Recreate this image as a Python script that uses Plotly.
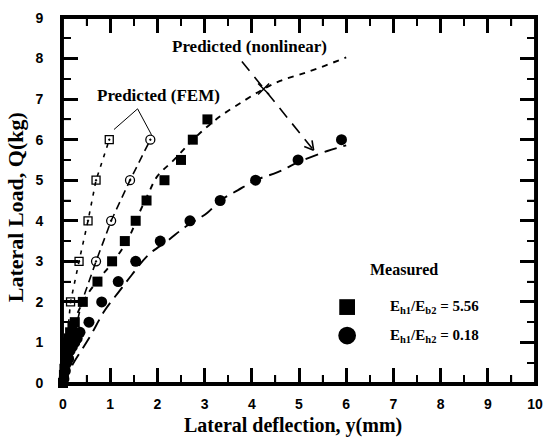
import plotly.graph_objects as go

# ---------------- data ----------------
# Measured, Eh1/Eb2 = 5.56 (filled squares)
sq_x = [0.0, 0.02, 0.03, 0.05, 0.06, 0.08, 0.10, 0.12, 0.15, 0.20, 0.25, 0.42, 0.73, 1.04, 1.31, 1.54, 1.77, 2.15, 2.50, 2.75, 3.06]
sq_y = [0.0, 0.2, 0.35, 0.5, 0.65, 0.8, 1.0, 1.1, 1.25, 1.4, 1.5, 2.0, 2.5, 3.0, 3.5, 4.0, 4.5, 5.0, 5.5, 6.0, 6.5]
# Measured, Eh1/Eh2 = 0.18 (filled circles)
ci_x = [0.02, 0.05, 0.08, 0.12, 0.15, 0.20, 0.25, 0.30, 0.36, 0.55, 0.82, 1.17, 1.54, 2.06, 2.69, 3.33, 4.08, 4.98, 5.90]
ci_y = [0.1, 0.3, 0.5, 0.6, 0.8, 0.9, 1.0, 1.1, 1.25, 1.5, 2.0, 2.5, 3.0, 3.5, 4.0, 4.5, 5.0, 5.5, 6.0]

# Predicted (FEM)
fem_sq_x = [0.16, 0.34, 0.53, 0.70, 0.98]
fem_sq_y = [2.0, 3.0, 4.0, 5.0, 6.0]
fem_sq_line_x = [0.0, 0.08, 0.16, 0.34, 0.53, 0.70, 0.98]
fem_sq_line_y = [0.0, 1.0, 2.0, 3.0, 4.0, 5.0, 6.0]
fem_ci_x = [0.70, 1.02, 1.42, 1.85]
fem_ci_y = [3.0, 4.0, 5.0, 6.0]
fem_ci_line_x = [0.0, 0.2, 0.4, 0.70, 1.02, 1.42, 1.85]
fem_ci_line_y = [0.0, 1.0, 2.0, 3.0, 4.0, 5.0, 6.0]

# Predicted (nonlinear)
nl_hi_x = [0.0, 0.05, 0.15, 0.30, 0.50, 0.75, 1.00, 1.25, 1.45, 1.60, 1.80, 2.00, 2.35, 2.80, 3.30, 3.85, 4.25, 4.60, 5.00, 5.45, 6.00]
nl_hi_y = [0.0, 0.6, 1.2, 1.7, 2.15, 2.55, 2.9, 3.3, 3.72, 4.15, 4.65, 5.1, 5.5, 6.05, 6.55, 6.97, 7.25, 7.45, 7.6, 7.78, 8.03]
nl_lo_x = [0.0, 0.20, 0.56, 0.88, 1.19, 1.46, 1.81, 2.23, 2.58, 3.06, 3.33, 3.70, 4.08, 4.55, 5.00, 5.60, 6.00]
nl_lo_y = [0.0, 0.45, 1.12, 1.78, 2.26, 2.67, 3.16, 3.52, 3.84, 4.2, 4.5, 4.75, 5.0, 5.2, 5.45, 5.72, 5.86]
nl_mark_x = [4.25]
nl_mark_y = [7.25]

x_ticks = list(range(0, 11))
y_ticks = list(range(0, 10))
x_title = "Lateral deflection, y(mm)"
y_title = "Lateral Load, Q(kg)"
legend_title = "Measured"
legend_labels = ["E<sub>h1</sub>/E<sub>b2</sub> = 5.56", "E<sub>h1</sub>/E<sub>h2</sub> = 0.18"]

SERIF = "Liberation Serif"
SANS = "Liberation Sans"

W, H = 553, 439
ML, MR, MT, MB = 63, 10, 13, 56
XR = [x_ticks[0], x_ticks[-1]]
YR = [y_ticks[0], y_ticks[-1]]
ppx = (W - ML - MR) / (XR[1] - XR[0])   # pixels per x unit
ppy = (H - MT - MB) / (YR[1] - YR[0])   # pixels per y unit

fig = go.Figure()

fig.add_trace(go.Scatter(x=fem_sq_line_x, y=fem_sq_line_y, mode="lines",
                         line=dict(color="black", width=1.6, dash="4px,6px")))
fig.add_trace(go.Scatter(x=fem_ci_line_x, y=fem_ci_line_y, mode="lines",
                         line=dict(color="black", width=1.6, dash="8px,5px")))
fig.add_trace(go.Scatter(x=nl_hi_x, y=nl_hi_y, mode="lines", line_shape="spline",
                         line=dict(color="black", width=1.9, dash="6px,6px")))
fig.add_trace(go.Scatter(x=nl_lo_x, y=nl_lo_y, mode="lines", line_shape="spline",
                         line=dict(color="black", width=1.9, dash="13px,7px")))

fig.add_trace(go.Scatter(x=fem_sq_x, y=fem_sq_y, mode="markers",
                         marker=dict(symbol="square-open-dot", size=8, color="black",
                                     line=dict(width=1.3, color="black"))))
fig.add_trace(go.Scatter(x=fem_ci_x, y=fem_ci_y, mode="markers",
                         marker=dict(symbol="circle-open-dot", size=9, color="black",
                                     line=dict(width=1.3, color="black"))))

fig.add_trace(go.Scatter(x=sq_x, y=sq_y, mode="markers", cliponaxis=False,
                         marker=dict(symbol="square", size=10, color="black")))
fig.add_trace(go.Scatter(x=ci_x, y=ci_y, mode="markers", cliponaxis=False,
                         marker=dict(symbol="circle", size=11, color="black")))
fig.add_trace(go.Scatter(x=nl_mark_x, y=nl_mark_y, mode="markers",
                         marker=dict(symbol="x-thin", size=11, color="black",
                                     line=dict(width=1.5, color="black"))))

# ---- axis frame and tick marks also drawn as plain line traces ----
fig.add_trace(go.Scatter(x=[XR[0], XR[1], XR[1], XR[0], XR[0]],
                         y=[YR[0], YR[0], YR[1], YR[1], YR[0]],
                         mode="lines", cliponaxis=False, hoverinfo="skip",
                         line=dict(color="black", width=1.9)))

MAJ, MIN = 15, 8
x_minor = [(a + b) / 2 for a, b in zip(x_ticks[:-1], x_ticks[1:])]
y_minor = [(a + b) / 2 for a, b in zip(y_ticks[:-1], y_ticks[1:])]
for xv_list, yv_list, ln, w in [(x_ticks[1:-1], y_ticks[1:-1], MAJ, 1.9), (x_minor, y_minor, MIN, 1.5)]:
    tx, ty = [], []
    for v in xv_list:
        tx += [v, v, None, v, v, None]
        ty += [YR[0], YR[0] + ln / ppy, None, YR[1], YR[1] - ln / ppy, None]
    for v in yv_list:
        tx += [XR[0], XR[0] + ln / ppx, None, XR[1], XR[1] - ln / ppx, None]
        ty += [v, v, None, v, v, None]
    fig.add_trace(go.Scatter(x=tx, y=ty, mode="lines", cliponaxis=False, hoverinfo="skip",
                             line=dict(color="black", width=w)))

axis_common = dict(
    showline=True, linecolor="black", linewidth=3, mirror="ticks",
    ticks="inside", ticklen=MAJ, tickwidth=3, tickcolor="black",
    showgrid=False, zeroline=False,
    tickfont=dict(family=SANS, size=14, color="black"),
)
fig.update_xaxes(
    range=XR, tickmode="array", tickvals=x_ticks,
    ticktext=["<b>%d</b>" % v for v in x_ticks],
    ticklabelstandoff=6,
    minor=dict(ticks="inside", ticklen=MIN, tickwidth=2, dtick=0.5, tickcolor="black", showgrid=False),
    **axis_common,
)
fig.update_yaxes(
    range=YR, tickmode="array", tickvals=y_ticks,
    ticktext=["<b>%d</b>" % v for v in y_ticks],
    ticklabelstandoff=14,
    minor=dict(ticks="inside", ticklen=MIN, tickwidth=2, dtick=0.5, tickcolor="black", showgrid=False),
    **axis_common,
)

annots = []
annots.append(dict(text="<b>" + x_title + "</b>", xref="paper", yref="paper", x=0.4875, y=-0.117,
                   showarrow=False, xanchor="center", yanchor="middle",
                   font=dict(family=SERIF, size=20, color="black")))
annots.append(dict(text="<b>" + y_title + "</b>", xref="paper", yref="paper", x=-0.1, y=0.481,
                   showarrow=False, xanchor="center", yanchor="middle", textangle=-90,
                   font=dict(family=SERIF, size=22, color="black")))
annots.append(dict(text="<b>Predicted (nonlinear)</b>", x=3.95, y=8.3, showarrow=False,
                   xanchor="center", yanchor="middle",
                   font=dict(family=SERIF, size=17, color="black")))
annots.append(dict(text="<b>Predicted (FEM)</b>", x=2.02, y=7.08, showarrow=False,
                   xanchor="center", yanchor="middle",
                   font=dict(family=SERIF, size=17, color="black")))
annots.append(dict(text="<b>" + legend_title + "</b>", xref="paper", yref="paper", x=0.723, y=0.311,
                   showarrow=False, xanchor="center", yanchor="middle",
                   font=dict(family=SERIF, size=16, color="black")))
for lab, yy in zip(legend_labels, [0.208, 0.13]):
    annots.append(dict(text="<b>" + lab + "</b>", xref="paper", yref="paper", x=0.6875, y=yy,
                       xanchor="left", yanchor="middle", showarrow=False,
                       font=dict(family=SERIF, size=15, color="black")))

shapes = []
# FEM label pointer lines
shapes.append(dict(type="line", x0=1.58, y0=6.76, x1=1.08, y1=6.25, line=dict(color="black", width=1)))
shapes.append(dict(type="line", x0=1.58, y0=6.76, x1=1.875, y1=6.12, line=dict(color="black", width=1)))
# nonlinear label pointer (long dash) with open arrow head
shapes.append(dict(type="line", x0=3.79, y0=7.93, x1=5.31, y1=5.74,
                   line=dict(color="black", width=1.6, dash="12px,8px")))
for dx, dy in [(-1.6, 9.9), (-9.4, 3.6)]:
    shapes.append(dict(type="line", xsizemode="pixel", ysizemode="pixel",
                       xanchor=5.31, yanchor=5.74, x0=0, y0=0, x1=dx, y1=dy,
                       line=dict(color="black", width=1.6)))
# legend symbols
shapes.append(dict(type="rect", xref="paper", yref="paper",
                   x0=0.602 - 0.0167, x1=0.602 + 0.0167, y0=0.208 - 0.0216, y1=0.208 + 0.0216,
                   fillcolor="black", line=dict(width=0)))
shapes.append(dict(type="circle", xref="paper", yref="paper",
                   x0=0.602 - 0.0188, x1=0.602 + 0.0188, y0=0.13 - 0.0243, y1=0.13 + 0.0243,
                   fillcolor="black", line=dict(width=0)))

fig.update_layout(
    width=W, height=H,
    margin=dict(l=ML, r=MR, t=MT, b=MB),
    plot_bgcolor="white", paper_bgcolor="white",
    showlegend=False,
    annotations=annots, shapes=shapes,
)

fig.write_html("out.html")
